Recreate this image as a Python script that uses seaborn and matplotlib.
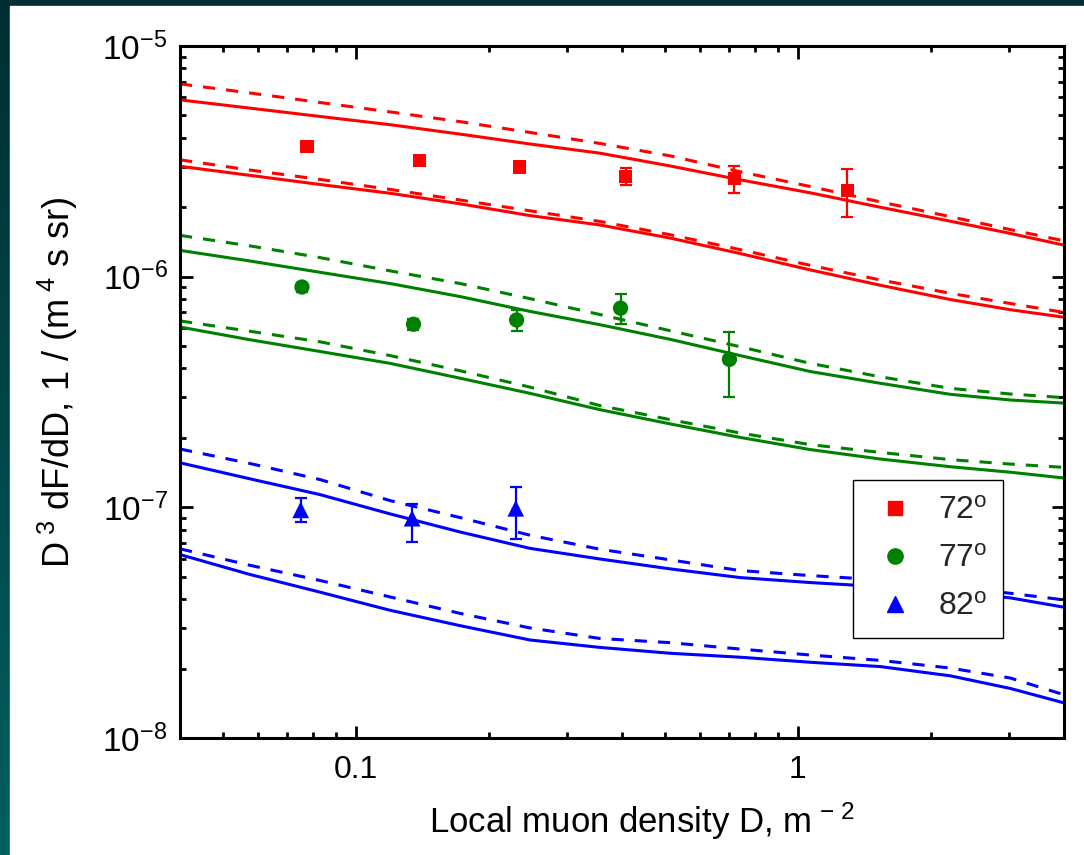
import numpy as np
import pandas as pd
import matplotlib
matplotlib.use("Agg")
import matplotlib.pyplot as plt
import seaborn as sns
from matplotlib.patches import Rectangle
from matplotlib.colors import LinearSegmentedColormap
from matplotlib.ticker import LogLocator, NullFormatter, FixedLocator, FixedFormatter

# ---------------- data ----------------
D_curve = [0.04, 0.0575, 0.0829, 0.1194, 0.172, 0.2477, 0.3568, 0.514, 0.740,
           1.066, 1.536, 2.212, 3.024, 4.0]

red_hi_solid = [5.84e-6, 5.38e-6, 4.95e-6, 4.56e-6, 4.15e-6, 3.76e-6, 3.43e-6,
                3.02e-6, 2.63e-6, 2.31e-6, 2.00e-6, 1.74e-6, 1.54e-6, 1.37e-6]
red_hi_dash = [6.85e-6, 6.26e-6, 5.69e-6, 5.18e-6, 4.70e-6, 4.22e-6, 3.78e-6,
               3.34e-6, 2.85e-6, 2.46e-6, 2.11e-6, 1.82e-6, 1.60e-6, 1.43e-6]
red_lo_solid = [3.01e-6, 2.75e-6, 2.51e-6, 2.30e-6, 2.07e-6, 1.84e-6, 1.675e-6,
                1.47e-6, 1.26e-6, 1.07e-6, 9.18e-7, 7.96e-7, 7.19e-7, 6.67e-7]
red_lo_dash = [3.21e-6, 2.90e-6, 2.64e-6, 2.39e-6, 2.15e-6, 1.93e-6, 1.735e-6,
               1.52e-6, 1.31e-6, 1.12e-6, 9.68e-7, 8.47e-7, 7.65e-7, 7.00e-7]

green_hi_solid = [1.30e-6, 1.17e-6, 1.045e-6, 9.34e-7, 8.20e-7, 7.07e-7, 6.19e-7,
                  5.35e-7, 4.55e-7, 3.88e-7, 3.45e-7, 3.09e-7, 2.92e-7, 2.83e-7]
green_hi_dash = [1.51e-6, 1.36e-6, 1.21e-6, 1.06e-6, 9.34e-7, 8.03e-7, 6.85e-7,
                 5.83e-7, 4.97e-7, 4.21e-7, 3.68e-7, 3.28e-7, 3.10e-7, 2.99e-7]
green_lo_solid = [6.05e-7, 5.33e-7, 4.74e-7, 4.21e-7, 3.63e-7, 3.12e-7, 2.65e-7,
                  2.30e-7, 2.01e-7, 1.78e-7, 1.62e-7, 1.50e-7, 1.42e-7, 1.34e-7]
green_lo_dash = [6.43e-7, 5.80e-7, 5.22e-7, 4.55e-7, 3.91e-7, 3.32e-7, 2.76e-7,
                 2.40e-7, 2.10e-7, 1.87e-7, 1.73e-7, 1.61e-7, 1.54e-7, 1.49e-7]

blue_hi_solid = [1.56e-7, 1.33e-7, 1.136e-7, 9.37e-8, 7.82e-8, 6.64e-8, 5.97e-8,
                 5.41e-8, 4.96e-8, 4.72e-8, 4.53e-8, 4.31e-8, 4.05e-8, 3.69e-8]
blue_hi_dash = [1.79e-7, 1.55e-7, 1.32e-7, 1.07e-7, 9.03e-8, 7.57e-8, 6.58e-8,
                5.92e-8, 5.32e-8, 5.06e-8, 4.85e-8, 4.53e-8, 4.24e-8, 3.97e-8]
blue_lo_solid = [6.24e-8, 5.12e-8, 4.29e-8, 3.58e-8, 3.07e-8, 2.66e-8, 2.47e-8,
                 2.33e-8, 2.24e-8, 2.13e-8, 2.04e-8, 1.86e-8, 1.64e-8, 1.42e-8]
blue_lo_dash = [6.61e-8, 5.61e-8, 4.82e-8, 4.09e-8, 3.47e-8, 3.00e-8, 2.70e-8,
                2.59e-8, 2.43e-8, 2.29e-8, 2.17e-8, 2.01e-8, 1.82e-8, 1.54e-8]

red_D = [0.0775, 0.139, 0.235, 0.408, 0.718, 1.293]
red_y = [3.68e-6, 3.20e-6, 2.99e-6, 2.71e-6, 2.67e-6, 2.36e-6]
red_lo = [3.60e-6, 3.12e-6, 2.92e-6, 2.50e-6, 2.31e-6, 1.81e-6]
red_hi = [3.76e-6, 3.28e-6, 3.06e-6, 2.96e-6, 3.03e-6, 2.92e-6]

green_D = [0.0755, 0.135, 0.231, 0.397, 0.70]
green_y = [9.02e-7, 6.22e-7, 6.49e-7, 7.30e-7, 4.38e-7]
green_lo = [8.60e-7, 5.85e-7, 5.82e-7, 6.22e-7, 3.00e-7]
green_hi = [9.40e-7, 6.55e-7, 7.17e-7, 8.41e-7, 5.78e-7]

blue_D = [0.075, 0.134, 0.23]
blue_y = [9.75e-8, 8.97e-8, 9.90e-8]
blue_lo = [8.61e-8, 7.10e-8, 7.30e-8]
blue_hi = [1.10e-7, 1.035e-7, 1.226e-7]

labels = ["72$^{\\rm o}$", "77$^{\\rm o}$", "82$^{\\rm o}$"]
colors = ["#ff0000", "#008000", "#0000ff"]
markers = ["s", "o", "^"]
x_ticks = [0.1, 1]
x_ticklabels = ["0.1", "1"]
y_ticks = [1e-8, 1e-7, 1e-6, 1e-5]
y_ticklabels = ["10$^{-8}$", "10$^{-7}$", "10$^{-6}$", "10$^{-5}$"]

# ---------------- style ----------------
sns.set_theme(style="ticks")
plt.rcParams["font.family"] = ["Liberation Sans", "DejaVu Sans"]
plt.rcParams["mathtext.fontset"] = "custom"
plt.rcParams["mathtext.rm"] = "Liberation Sans"
plt.rcParams["mathtext.it"] = "Liberation Sans"
plt.rcParams["mathtext.default"] = "regular"

W, H = 1084, 855
fig = plt.figure(figsize=(W / 100, H / 100), dpi=100)

# background: dark teal gradient frame + white panel
bg = fig.add_axes([0, 0, 1, 1], zorder=-10)
cmap = LinearSegmentedColormap.from_list("tl", ["#002e33", "#00605e"])
grad = np.linspace(0, 1, 256).reshape(-1, 1)
bg.imshow(grad, aspect="auto", cmap=cmap, extent=[0, 1, 0, 1], origin="upper")
bg.add_patch(Rectangle((10 / W, 0), 1, 1 - 6 / H, color="white", zorder=2))
bg.set_xlim(0, 1)
bg.set_ylim(0, 1)
bg.axis("off")

L, R, T, B = 180, 1064, 46, 738
ax = fig.add_axes([L / W, 1 - B / H, (R - L) / W, (B - T) / H])
ax.set_facecolor("white")

lw = 2.2
curves = [
    (red_hi_solid, red_hi_dash, red_lo_solid, red_lo_dash),
    (green_hi_solid, green_hi_dash, green_lo_solid, green_lo_dash),
    (blue_hi_solid, blue_hi_dash, blue_lo_solid, blue_lo_dash),
]
for c, (hs, hd, ls, ld) in zip(colors, curves):
    for vals, dashed in [(hs, False), (hd, True), (ls, False), (ld, True)]:
        sns.lineplot(x=D_curve, y=vals, ax=ax, color=c, lw=lw, legend=False,
                     estimator=None, sort=False)
        line = ax.lines[-1]
        if dashed:
            line.set_linestyle((0, (4.0, 3.6)))

pts = [(red_D, red_y, red_lo, red_hi, 9.5), (green_D, green_y, green_lo, green_hi, 11),
       (blue_D, blue_y, blue_lo, blue_hi, 12)]
handles = []
for (Dx, y, lo, hi, ms), c, m, lab in zip(pts, colors, markers, labels):
    y = np.array(y); lo = np.array(lo); hi = np.array(hi)
    ax.errorbar(Dx, y, yerr=[y - lo, hi - y], fmt="none", ecolor=c, elinewidth=1.6,
                capsize=4.5, capthick=1.6, zorder=3)
    df = pd.DataFrame({"D": Dx, "y": y})
    sns.scatterplot(data=df, x="D", y="y", ax=ax, color=c, marker=m, s=ms ** 2,
                    edgecolor="none", linewidth=0, zorder=4, legend=False)
    handles.append(plt.Line2D([], [], color=c, marker=m, ms=ms, ls="none", label=lab))

ax.set_xscale("log")
ax.set_yscale("log")
ax.set_xlim(0.04, 4.0)
ax.set_ylim(1e-8, 1e-5)

ax.xaxis.set_major_locator(FixedLocator(x_ticks))
ax.xaxis.set_major_formatter(FixedFormatter(x_ticklabels))
ax.xaxis.set_minor_locator(LogLocator(base=10, subs=np.arange(2, 10), numticks=20))
ax.xaxis.set_minor_formatter(NullFormatter())
ax.yaxis.set_major_locator(FixedLocator(y_ticks))
ax.yaxis.set_major_formatter(FixedFormatter(y_ticklabels))
ax.yaxis.set_minor_locator(LogLocator(base=10, subs=np.arange(2, 10), numticks=20))
ax.yaxis.set_minor_formatter(NullFormatter())

for sp in ax.spines.values():
    sp.set_visible(True)
    sp.set_linewidth(2.2)
    sp.set_color("black")
ax.tick_params(which="both", direction="in", top=True, right=True, width=2.0,
               color="black", labelcolor="black")
ax.tick_params(which="major", length=9)
ax.tick_params(which="minor", length=4.5)
ax.tick_params(axis="x", which="major", pad=12, labelsize=23)
ax.tick_params(axis="y", which="major", pad=9, labelsize=24)
ax.grid(False)

ax.set_xlabel("Local muon density D, m$^{\\,-\\,2}$", fontsize=25, color="black")
ax.xaxis.set_label_coords((642 - L) / (R - L), -0.09)
ax.set_ylabel("D$^{\\ 3}$ dF/dD, 1 / (m$^{\\ 4}$ s sr)", fontsize=26, color="black")
ax.yaxis.set_label_coords(-(L - 80) / (R - L), (B - 382) / (B - T))

leg = ax.legend(handles=handles, loc="upper left",
                bbox_to_anchor=((853 - L) / (R - L), 1 - (480 - T) / (B - T)),
                fontsize=23, frameon=True, fancybox=False, edgecolor="black",
                framealpha=1.0, facecolor="white",
                handletextpad=0.55, labelspacing=0.56, borderpad=0.5,
                handlelength=1.6, borderaxespad=0)
leg.get_frame().set_linewidth(1.0)

fig.savefig("out.png", dpi=100)
